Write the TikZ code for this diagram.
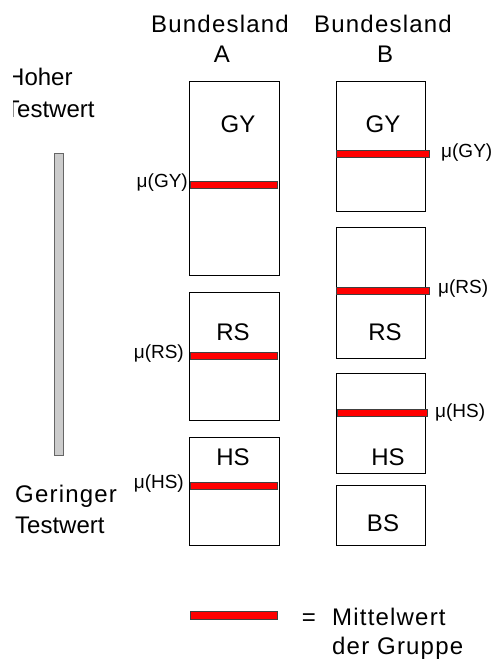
\documentclass[tikz,border=0pt]{standalone}
\usepackage{fontspec}
\setmainfont{Liberation Sans}
\newfontfamily\spacedfont[LetterSpace=5]{Liberation Sans}
\begin{document}
\begin{tikzpicture}[x=1pt,y=-1pt,
  bigtext/.style={font=\spacedfont\fontsize{24}{28}\selectfont, inner sep=0pt},
  lbltext/.style={font=\fontsize{24}{28}\selectfont, inner sep=0pt, anchor=base},
  mutext/.style={font=\fontsize{19}{21}\selectfont, inner sep=0pt},
  groupbox/.style={draw=black, line width=0.8pt, inner sep=0pt, anchor=north west},
  meanbar/.style={draw=black!75, line width=0.6pt, fill=red, inner sep=0pt,
                  minimum height=7pt, anchor=west}]
\useasboundingbox (0,0) rectangle (496,663);

% column headings
\node[bigtext, anchor=base] (headA) at (220,33) {Bundesland};
\node[bigtext, anchor=base] (letA) at (222,63) {A};
\node[bigtext, anchor=base] (headB) at (383,33) {Bundesland};
\node[bigtext, anchor=base] (letB) at (385,63) {B};

% scale on the left (upper caption cut off at its left edge)
\begin{scope}
  \clip (13,60) rectangle (140,130);
  \node[font=\fontsize{24}{28}\selectfont, inner sep=0pt, anchor=base west] (hoch1) at (7,86) {Hoher};
  \node[font=\fontsize{24}{28}\selectfont, inner sep=0pt, anchor=base west] (hoch2) at (5,118) {Testwert};
\end{scope}
\node[draw=black!60, fill=black!20, line width=0.6pt, inner sep=0pt,
      minimum width=9pt, minimum height=302pt, anchor=north west] (scale) at (54,153) {};
\node[bigtext, anchor=base west] (tief1) at (15,502) {Geringer};
\node[font=\fontsize{24}{28}\selectfont, inner sep=0pt, anchor=base west] (tief2) at (15,533) {Testwert};

% Bundesland A: school-type boxes
\node[groupbox, minimum width=90pt, minimum height=194pt] (gyA) at (189,81) {};
\node[groupbox, minimum width=90pt, minimum height=128pt] (rsA) at (189,292) {};
\node[groupbox, minimum width=90pt, minimum height=108pt] (hsA) at (189,437) {};
\node[lbltext] (gyAl) at (238,133) {GY};
\node[lbltext] (rsAl) at (233,340) {RS};
\node[lbltext] (hsAl) at (233,465) {HS};

% Bundesland B: school-type boxes
\node[groupbox, minimum width=89pt, minimum height=130pt] (gyB) at (336,81) {};
\node[groupbox, minimum width=89pt, minimum height=131pt] (rsB) at (336,227) {};
\node[groupbox, minimum width=89pt, minimum height=100pt] (hsB) at (336,373) {};
\node[groupbox, minimum width=89pt, minimum height=60pt] (bsB) at (336,485) {};
\node[lbltext] (gyBl) at (383,133) {GY};
\node[lbltext] (rsBl) at (385,340) {RS};
\node[lbltext] (hsBl) at (388,465) {HS};
\node[lbltext] (bsBl) at (383,531) {BS};

% group means, Bundesland A
\node[meanbar, minimum width=87pt] (mgyA) at (190,185) {};
\node[meanbar, minimum width=87pt] (mrsA) at (190,356) {};
\node[meanbar, minimum width=87pt] (mhsA) at (190,485.5) {};
\node[mutext, anchor=mid east] (tgyA) at (188,185) {μ(GY)};
\node[mutext, anchor=mid east] (trsA) at (184,356) {μ(RS)};
\node[mutext, anchor=mid east] (thsA) at (184,486) {μ(HS)};

% group means, Bundesland B
\node[meanbar, minimum width=93pt] (mgyB) at (336,153.5) {};
\node[meanbar, minimum width=93pt] (mrsB) at (336,291) {};
\node[meanbar, minimum width=90pt] (mhsB) at (337,413) {};
\node[mutext, anchor=mid west] (tgyB) at (441,155) {μ(GY)};
\node[mutext, anchor=mid west] (trsB) at (438,291) {μ(RS)};
\node[mutext, anchor=mid west] (thsB) at (435,415) {μ(HS)};

% legend
\node[meanbar, minimum width=87pt, minimum height=8pt] (legbar) at (190,615) {};
\node[bigtext, anchor=base] (legeq) at (309,625) {=};
\node[bigtext, anchor=base west] (leg1) at (332,625) {Mittelwert};
\node[bigtext, anchor=base west] (leg2) at (332,654) {der Gruppe};
\end{tikzpicture}
\end{document}
